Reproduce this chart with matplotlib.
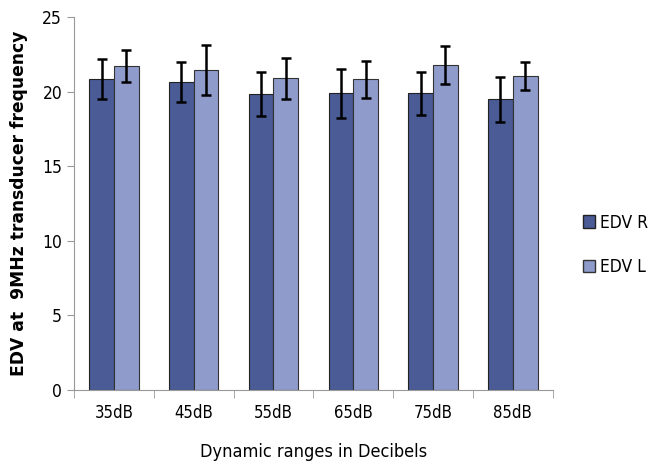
import numpy as np
import matplotlib.pyplot as plt
from matplotlib.patches import Patch

categories = ["35dB", "45dB", "55dB", "65dB", "75dB", "85dB"]
edv_r = [20.85, 20.67, 19.85, 19.9, 19.9, 19.5]
edv_r_err = [1.35, 1.33, 1.45, 1.65, 1.42, 1.5]
edv_l = [21.74, 21.46, 20.9, 20.85, 21.8, 21.05]
edv_l_err = [1.07, 1.7, 1.37, 1.25, 1.3, 0.95]

dark = "#4a5b96"
light = "#8f9bcb"
narrow = dict(family="DejaVu Sans", stretch="condensed")

fig = plt.figure(figsize=(6.51, 4.68), dpi=100)
ax = fig.add_axes([0.1137, 0.1667, 0.7353, 0.7963])

x = np.arange(len(categories))
w = 0.31
err_style = dict(ecolor="black", elinewidth=1.8, capsize=3.5, capthick=1.8)
ax.bar(x - w / 2, edv_r, w, color=dark, edgecolor="#222222", linewidth=0.8,
       yerr=edv_r_err, error_kw=err_style)
ax.bar(x + w / 2, edv_l, w, color=light, edgecolor="#333333", linewidth=0.8,
       yerr=edv_l_err, error_kw=err_style)

ax.set_xlim(-0.5, len(categories) - 0.5)
ax.set_ylim(0, 25)
ax.set_yticks([0, 5, 10, 15, 20, 25])
ax.set_xticks(x)
ax.set_xticklabels(categories, fontsize=12, **narrow)
ax.set_xticks(np.arange(len(categories) + 1) - 0.5, minor=True)
ax.tick_params(axis="x", which="major", length=0, pad=10)
ax.tick_params(axis="x", which="minor", length=6, color="#999999", direction="out")
ax.tick_params(axis="y", length=5, color="#999999", labelsize=12.5)
for lab in ax.get_yticklabels():
    lab.set_family(narrow["family"])
    lab.set_stretch(narrow["stretch"])

for s in ["top", "right"]:
    ax.spines[s].set_visible(False)
ax.spines["left"].set_color("#999999")
ax.spines["bottom"].set_color("#999999")

ax.set_ylabel("EDV at  9MHz transducer frequency", fontsize=12.3, fontweight="bold", labelpad=10)
ax.set_xlabel("Dynamic ranges in Decibels", fontsize=13, labelpad=15, **narrow)

handles = [Patch(facecolor=dark, edgecolor="#222222"), Patch(facecolor=light, edgecolor="#333333")]
ax.legend(handles, ["EDV R", "EDV L"], loc="center left", bbox_to_anchor=(1.03, 0.39),
          frameon=False, prop=dict(size=12.5, **narrow), handlelength=0.7,
          handleheight=0.7, handletextpad=0.3, labelspacing=1.5)

plt.savefig("out.png", dpi=100)
